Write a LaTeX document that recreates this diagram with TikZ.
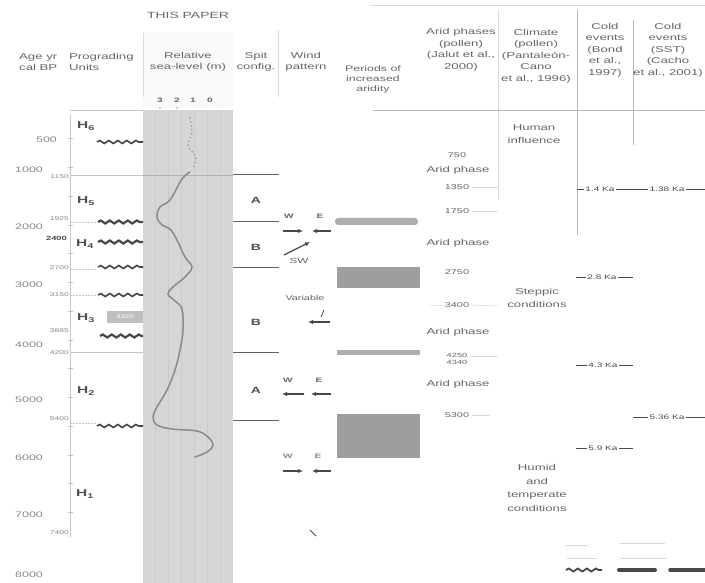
\documentclass[tikz,border=0pt]{standalone}
\usepackage{fontspec}
\setmainfont[FakeStretch=1.55]{Liberation Sans}
\usetikzlibrary{decorations.pathmorphing,arrows.meta}
\definecolor{txt}{HTML}{666666}
\definecolor{ltxt}{HTML}{888888}
\definecolor{hcol}{HTML}{505050}
\definecolor{dark}{HTML}{484848}
\definecolor{bandc}{HTML}{D6D6D6}
\definecolor{stripec}{HTML}{CACACA}
\definecolor{barc}{HTML}{AEAEAE}
\definecolor{rectc}{HTML}{9E9E9E}
\definecolor{curvec}{HTML}{8A8A8A}
\tikzset{
  hdr/.style={font=\fontsize{8.5}{11.5}\selectfont, align=center, inner sep=0pt, text=txt},
  body/.style={font=\fontsize{8.5}{13}\selectfont, align=center, inner sep=0pt, text=txt},
  num/.style={font=\fontsize{7}{8}\selectfont, inner sep=0pt, text=txt},
  agelab/.style={font=\fontsize{8}{9}\selectfont, anchor=east, inner sep=0pt, text=ltxt},
  smlab/.style={font=\fontsize{5.5}{6}\selectfont, anchor=east, inner sep=0pt, text=ltxt},
  hlab/.style={font=\fontsize{10}{10}\selectfont\bfseries, inner sep=0pt, text=hcol},
  cfglab/.style={font=\fontsize{9}{9}\selectfont\bfseries, inner sep=0pt, text=hcol},
  windlab/.style={font=\fontsize{6.5}{7}\selectfont\bfseries, inner sep=0pt, text=txt},
  kalab/.style={font=\fontsize{6.5}{7}\selectfont, inner sep=1pt, text=dark},
  wavy/.style={draw=dark, line width=1.6pt, decorate, decoration={snake, amplitude=1.5pt, segment length=9pt}},
  wavyT/.style={wavy, line width=2.2pt},
  unitline/.style={draw=gray!45, line width=0.6pt},
  dotline/.style={draw=gray!45, line width=0.6pt, dash pattern=on 1.5pt off 1.5pt},
  cfgline/.style={draw=gray!75!black, line width=1pt},
  faint/.style={draw=gray!30, line width=0.6pt},
  colline/.style={draw=gray!55, line width=0.7pt},
  windarrow/.style={draw=dark, line width=1.3pt, -{Latex[length=5pt,width=4.5pt]}},
  kaline/.style={draw=dark, line width=0.9pt},
}
\begin{document}
\begin{tikzpicture}[x=1pt,y=-1pt]
\useasboundingbox (0,0) rectangle (705,583);
\fill[white] (0,0) rectangle (705,583);

% ---------- header ----------
\fill[gray!5] (143,32) rectangle (233,108);
\draw[faint] (370,5) -- (705,5);
\draw[faint] (143,33) -- (143,97);
\draw[faint] (278,30) -- (278,97);
\draw[faint] (498,10) -- (498,200);
\draw[colline] (577,10) -- (577,235);
\draw[colline] (633,20) -- (633,145);
\draw[unitline] (70,110) -- (143,110);
\draw[colline] (373,110) -- (705,110);

\node[hdr, font=\fontsize{9}{11}\selectfont] (thispaper) at (188,15) {THIS PAPER};
\node[hdr, align=left, anchor=west] (hage) at (19,62) {Age yr\\cal BP};
\node[hdr, align=left, anchor=west] (hprog) at (69,62) {Prograding\\Units};
\node[hdr] (hrsl) at (188,62) {Relative\\sea-level (m)};
\node[hdr] (hspit) at (256,62) {Spit\\config.};
\node[hdr] (hwind) at (306,62) {Wind\\pattern};
\node[hdr, font=\fontsize{8}{10}\selectfont] (hper) at (373,79) {Periods of\\increased\\aridity};
\node[hdr] (harid) at (461,50) {Arid phases\\(pollen)\\(Jalut et al.,\\2000)};
\node[hdr] (hclim) at (536,56) {Climate\\(pollen)\\(Pantaleón-\\Cano\\et al., 1996)};
\node[hdr] (hbond) at (605,50) {Cold\\events\\(Bond\\et al.,\\1997)};
\node[hdr] (hcacho) at (668,50) {Cold\\events\\(SST)\\(Cacho\\et al., 2001)};

% scale of relative sea level
\node[num, font=\fontsize{6.5}{7}\selectfont\bfseries] (s3) at (160,100) {3};
\node[num, font=\fontsize{6.5}{7}\selectfont\bfseries] (s2) at (177,100) {2};
\node[num, font=\fontsize{6.5}{7}\selectfont\bfseries] (s1) at (193,100) {1};
\node[num, font=\fontsize{6.5}{7}\selectfont\bfseries] (s0) at (210,100) {0};
\fill[gray!60] (160,108) circle (1pt) (177,108) circle (1pt);

% ---------- sea-level band ----------
\fill[bandc] (143,110) rectangle (233,583);
\foreach \k in {1,...,6} \draw[stripec, line width=0.8pt] ({143+\k*12.86},110) -- ({143+\k*12.86},583);

% ---------- age axis ----------
\draw[gray!45, line width=0.7pt] (70,115) -- (70,537);
\foreach \a in {500,1000,...,7000} \draw[gray!45, line width=0.6pt] (67.5,{110+0.0575*\a}) -- (72.5,{110+0.0575*\a});
\node[agelab] (a500)  at (57,140) {500};
\node[agelab] (a1000) at (43,170) {1000};
\node[agelab] (a2000) at (43,227) {2000};
\node[agelab] (a3000) at (43,285) {3000};
\node[agelab] (a4000) at (43,345) {4000};
\node[agelab] (a5000) at (43,400) {5000};
\node[agelab] (a6000) at (43,458) {6000};
\node[agelab] (a7000) at (43,515) {7000};
\node[agelab] (a8000) at (43,575) {8000};

\node[smlab] (b1150) at (69,177) {1150};
\node[smlab] (b1925) at (69,219) {1925};
\node[smlab, font=\fontsize{6}{6}\selectfont\bfseries, text=dark] (b2400) at (67,238) {2400};
\node[smlab] (b2700) at (69,268) {2700};
\node[smlab] (b3150) at (69,295) {3150};
\node[smlab] (b3885) at (69,331) {3885};
\node[smlab] (b4200) at (69,353) {4200};
\node[smlab] (b5400) at (69,419) {5400};
\node[smlab] (b7400) at (69,533) {7400};

% unit boundary lines
\draw[unitline] (70,175) -- (143,175);
\draw[gray!60, line width=0.7pt] (143,175) -- (233,175);
\draw[dotline] (70,222) -- (97,222);
\draw[dotline] (70,269) -- (97,269);
\draw[dotline] (70,295) -- (97,295);
\draw[unitline] (70,352) -- (143,352);
\draw[dotline] (70,423) -- (97,423);

% prograding units labels
\node[hlab] (h6) at (86,126) {H\textsubscript{6}};
\node[hlab] (h5) at (86,201) {H\textsubscript{5}};
\node[hlab] (h4) at (85,244) {H\textsubscript{4}};
\node[hlab] (h3) at (86,318) {H\textsubscript{3}};
\node[hlab] (h2) at (86,391) {H\textsubscript{2}};
\node[hlab] (h1) at (85,494) {H\textsubscript{1}};

% wavy unconformities
\draw[wavy]  (97,142) -- (143,142);
\draw[wavyT] (98,222) -- (143,222);
\draw[wavyT] (98,242) -- (143,242);
\draw[wavy]  (98,267) -- (143,267);
\draw[wavy]  (98,295) -- (143,295);
\draw[wavyT] (100,336) -- (143,336);
\draw[wavy]  (97,426) -- (143,426);
\fill[gray!50] (107,311) rectangle (143,323);
\node[font=\fontsize{5}{5}\selectfont, text=white, inner sep=0pt] (h3box) at (125,317) {3320};

% relative sea-level curve
\draw[curvec, line width=1.6pt, line cap=round, dash pattern=on 0pt off 4pt]
  plot[smooth] coordinates {(190,118) (192,132) (188,146) (196,157) (193,169)};
\draw[curvec, line width=1.5pt, line cap=round]
  plot[smooth, tension=0.6] coordinates {(190,172) (182,179) (170,200) (160,207) (157,217) (162,225) (170,229)
   (177,240) (185,257) (192,267) (185,277) (173,287) (168,294) (175,301) (182,309) (183,330)
   (180,350) (175,370) (167,390) (157,407) (153,417) (157,425) (172,429) (197,431) (208,437)
   (213,445) (207,452) (195,457)};

% ---------- spit configuration ----------
\foreach \yy in {175,222,268,352,420} \draw[cfgline] (233,\yy) -- (279,\yy);
\node[cfglab] (cA1) at (256,200) {A};
\node[cfglab] (cB1) at (256,247) {B};
\node[cfglab] (cB2) at (256,322) {B};
\node[cfglab] (cA2) at (256,390) {A};

% ---------- wind pattern ----------
\node[windlab] (w1) at (289,216) {W};
\node[windlab] (e1) at (320,216) {E};
\draw[windarrow] (283,231) -- (303,231);
\draw[windarrow] (331,231) -- (312,231);
\draw[windarrow] (284,255) -- (310,242);
\node[windlab, font=\fontsize{7.5}{8}\selectfont] (sw) at (299,261) {SW};
\node[num, font=\fontsize{7}{7}\selectfont] (var) at (305,298) {Variable};
\draw[windarrow, line width=1.1pt] (330,322) -- (308,322);
\draw[dark, line width=0.8pt] (321,317) -- (324,310);
\node[windlab] (w2) at (288,380) {W};
\node[windlab] (e2) at (319,380) {E};
\draw[windarrow] (304,394) -- (282,394);
\draw[windarrow] (331,394) -- (311,394);
\node[windlab, text=ltxt] (w3) at (288,456) {W};
\node[windlab, text=ltxt] (e3) at (318,456) {E};
\draw[windarrow] (283,471) -- (303,471);
\draw[windarrow] (331,471) -- (312,471);
\draw[dark, line width=0.9pt] (310,530) -- (316,536);

% ---------- periods of increased aridity ----------
\fill[barc, rounded corners=3pt] (335,218) rectangle (418,225);
\fill[rectc] (337,267) rectangle (420,288);
\fill[barc] (337,350) rectangle (420,355);
\fill[rectc] (337,414) rectangle (420,458);

% ---------- arid phases (Jalut) ----------
\node[num] (j750)  at (457,155) {750};
\node[body] (jap1) at (458,170) {Arid phase};
\node[num] (j1350) at (457,187) {1350};
\node[num] (j1750) at (457,211) {1750};
\node[body] (jap2) at (458,243) {Arid phase};
\node[num] (j2750) at (457,272) {2750};
\node[num] (j3400) at (457,305) {3400};
\node[body] (jap3) at (458,332) {Arid phase};
\node[num, font=\fontsize{6}{6.5}\selectfont, align=center] (j4250) at (457,359) {4250\\4340};
\node[body] (jap4) at (458,384) {Arid phase};
\node[num] (j5300) at (457,415) {5300};
\draw[faint] (j1350.east) ++(3,0) -- (498,187);
\draw[faint] (j1750.east) ++(3,0) -- (498,211);
\draw[faint] (430,306) -- (j3400.west);
\draw[faint] (j3400.east) ++(2,0) -- (498,306);
\draw[faint] (j4250.east) ++(3,-3) -- (498,356);
\draw[faint] (j5300.east) ++(3,0) -- (490,415);

% ---------- climate (Pantaleón-Cano) ----------
\node[body] (chum) at (534,134) {Human\\influence};
\node[body] (cstep) at (537,298) {Steppic\\conditions};
\node[body, font=\fontsize{8.5}{13.5}\selectfont] (chumid) at (537,488) {Humid\\and\\temperate\\conditions};

% ---------- cold events ----------
\node[kalab] (k14) at (600,189) {1.4 Ka};
\node[kalab] (k138) at (667,189) {1.38 Ka};
\draw[kaline] (577,189) -- (k14.west);
\draw[kaline] (k14.east) -- (k138.west);
\draw[kaline] (k138.east) -- (705,189);
\node[kalab] (k28) at (602,277) {2.8 Ka};
\draw[kaline] (576,277) -- (k28.west);
\draw[kaline] (k28.east) -- (633,277);
\node[kalab] (k43) at (603,365) {4.3 Ka};
\draw[kaline] (576,365) -- (k43.west);
\draw[kaline] (k43.east) -- (633,365);
\node[kalab] (k536) at (667,417) {5.36 Ka};
\draw[kaline] (633,417) -- (k536.west);
\draw[kaline] (k536.east) -- (705,417);
\node[kalab] (k59) at (603,448) {5.9 Ka};
\draw[kaline] (576,448) -- (k59.west);
\draw[kaline] (k59.east) -- (633,448);

% 8.2 ka event
\draw[faint] (565,545) -- (588,545) (620,543) -- (665,543);
\draw[faint] (567,558) -- (597,558) (620,558) -- (667,558);
\draw[wavy, line width=1.8pt] (566,570) -- (602,570);
\draw[dark, line width=4pt, line cap=round] (619,570) -- (655,570);
\draw[dark, line width=3.5pt, line cap=round] (670,570) -- (705,570);

\end{tikzpicture}
\end{document}
